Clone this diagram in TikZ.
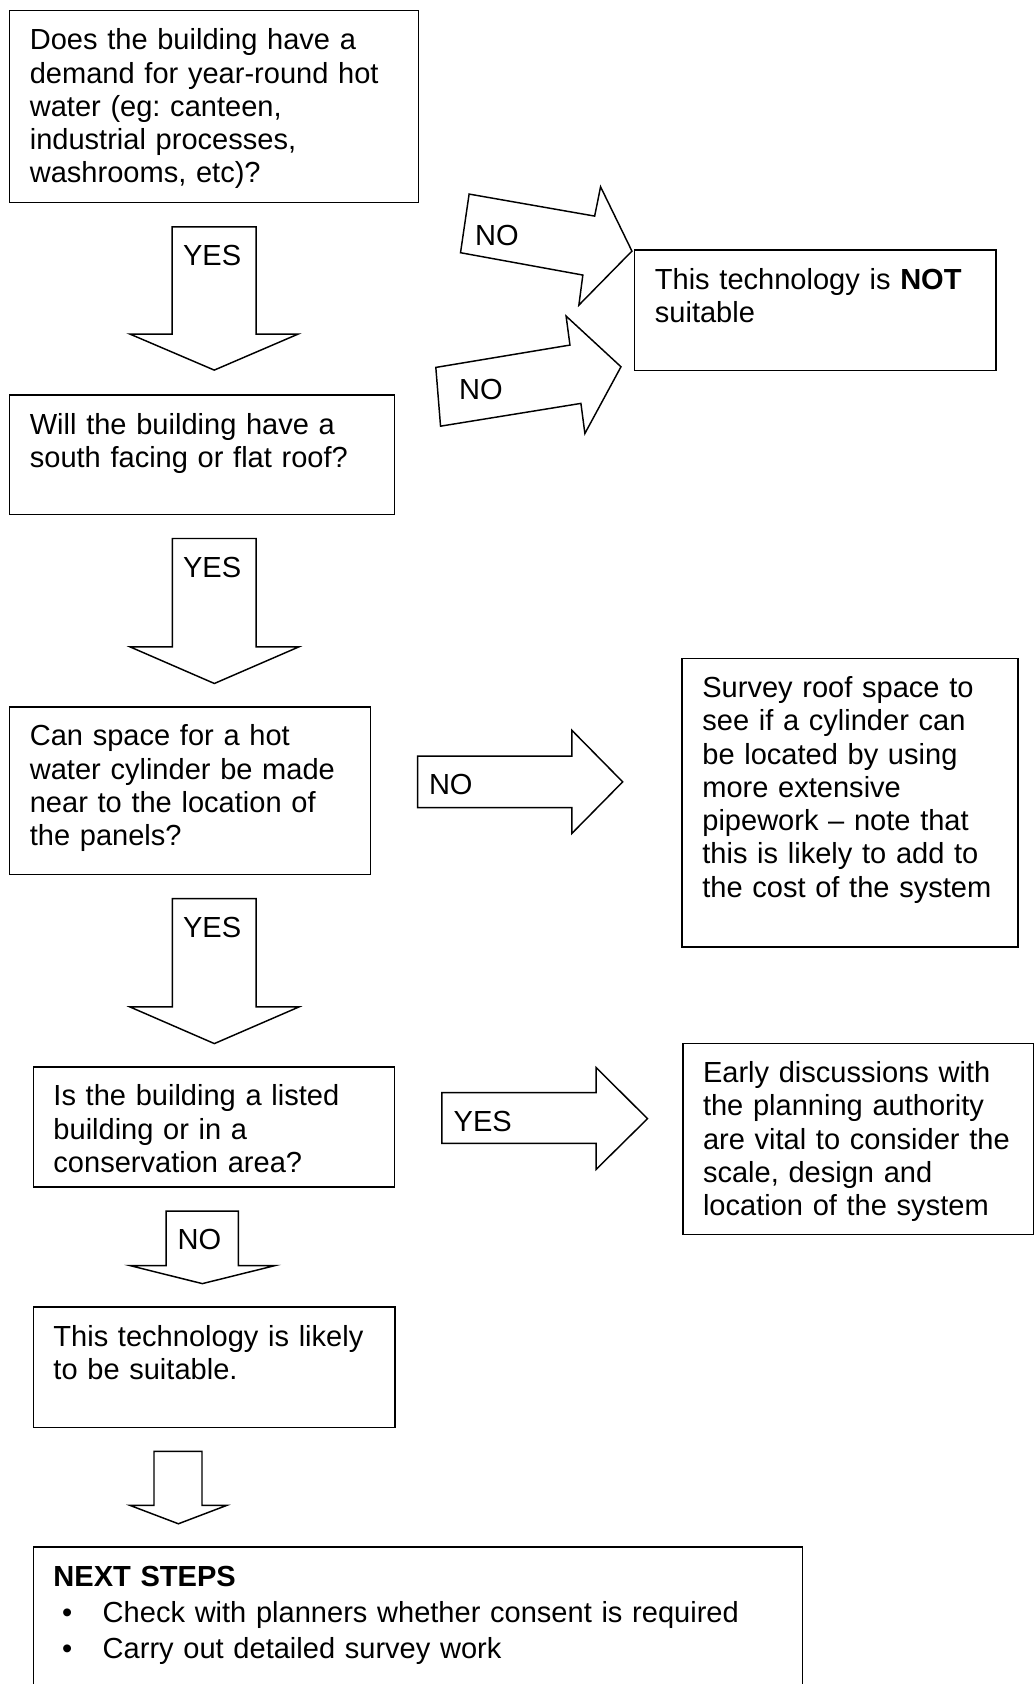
\documentclass[tikz,border=0pt]{standalone}
\usepackage{fontspec}
\setmainfont{Liberation Sans}
\usetikzlibrary{fit,calc}
\frenchspacing
\begin{document}
\begin{tikzpicture}[x=0.44pt,y=-0.44pt,
  frame/.style={draw=black, line width=0.6pt, inner sep=0pt, fit={#1}},
  blockarrow/.style={draw=black, line width=0.6pt, line join=miter, fill=white},
  body/.style={anchor=base west, inner sep=0pt, align=left, text width=#1,
    font=\fontsize{11.9pt}{13.64pt}\selectfont},
  body/.default=170pt,
  tag/.style={anchor=base west, inner sep=0pt, font=\fontsize{11.9pt}{13.64pt}\selectfont}]

\useasboundingbox (0,0) rectangle (963,1568);
\clip (0,0) rectangle (963,1568);

% ---------- decision and result boxes ----------
\node[frame={(9,10) (389.5,188.4)}] (q1) {};
\node[frame={(9,367.9) (367.3,479)}] (q2) {};
\node[frame={(9,658.2) (345,814)}] (q3) {};
\node[frame={(31,993.4) (367.4,1105.2)}] (q4) {};
\node[frame={(591,232.8) (927.3,345.2)}] (notok) {};
\node[frame={(635.2,613.1) (947.7,881.7)}] (survey) {};
\node[frame={(635.8,971.7) (962.3,1149.3)}] (early) {};
\node[frame={(31,1217) (367.9,1329.3)}] (likely) {};
\node[frame={(31,1440.5) (747.3,1620)}] (next) {};

\node[body] (t1) at ($(q1.north west)+(19,37)$)
  {Does the building have a\\demand for year-round hot\\water (eg: canteen,\\industrial processes,\\washrooms, etc)?};
\node[body] (t2) at ($(q2.north west)+(19,37)$)
  {Will the building have a\\south facing or flat roof?};
\node[body] (t3) at ($(q3.north west)+(19,37)$)
  {Can space for a hot\\water cylinder be made\\near to the location of\\the panels?};
\node[body] (t4) at ($(q4.north west)+(19,37)$)
  {Is the building a listed\\building or in a\\conservation area?};
\node[body] (tn) at ($(notok.north west)+(19,37)$)
  {This technology is \textbf{NOT}\\suitable};
\node[body] (ts) at ($(survey.north west)+(19,37)$)
  {Survey roof space to\\see if a cylinder can\\be located by using\\more extensive\\pipework \textendash\ note that\\this is likely to add to\\the cost of the system};
\node[body] (te) at ($(early.north west)+(19,37)$)
  {Early discussions with\\the planning authority\\are vital to consider the\\scale, design and\\location of the system};
\node[body] (tl) at ($(likely.north west)+(19,37)$)
  {This technology is likely\\to be suitable.};
\node[body=320pt] (tx) at ($(next.north west)+(19,37)$)
  {\textbf{NEXT STEPS}\\[1.3pt]
   \makebox[20.2pt][l]{\hspace{3.6pt}\textbullet}Check with planners whether consent is required\\[1pt]
   \makebox[20.2pt][l]{\hspace{3.6pt}\textbullet}Carry out detailed survey work};

% ---------- block arrows ----------
% downward YES arrows
\draw[blockarrow] (160.2,211.3) -- (238.5,211.3) -- (238.5,311.1) -- (277.5,311.1)
  -- (199.5,344.6) -- (121.1,311.1) -- (160.2,311.1) -- cycle;
\draw[blockarrow] (160.5,501.4) -- (238.4,501.4) -- (238.4,602.3) -- (278.3,602.3)
  -- (199.6,636.4) -- (121.1,602.3) -- (160.5,602.3) -- cycle;
\draw[blockarrow] (160.5,836.7) -- (238.4,836.7) -- (238.4,937.6) -- (278.3,937.6)
  -- (199.6,971.7) -- (121.1,937.6) -- (160.5,937.6) -- cycle;
% downward NO arrow and final arrow
\draw[blockarrow] (154.6,1127.6) -- (222,1127.6) -- (222,1178.4) -- (256.1,1178.4)
  -- (188.4,1195.2) -- (121.1,1178.4) -- (154.6,1178.4) -- cycle;
\draw[blockarrow] (143.4,1351.4) -- (188.1,1351.4) -- (188.1,1401.7) -- (211.1,1401.7)
  -- (166.1,1418.8) -- (121.1,1401.7) -- (143.4,1401.7) -- cycle;
% tilted NO arrows into the "not suitable" box
\draw[blockarrow] (436.8,180.7) -- (553.7,201.2) -- (559.2,173.9) -- (588.4,233.8)
  -- (539.0,284.1) -- (542.7,256.1) -- (428.8,235.3) -- cycle;
\draw[blockarrow] (405.8,342.1) -- (530.7,321.3) -- (527.1,294.3) -- (578.2,341.5)
  -- (544.6,403.6) -- (540.9,375.6) -- (410.2,396.8) -- cycle;
% rightward arrows
\draw[blockarrow] (388.8,704.1) -- (532.4,704.1) -- (532.4,679.9) -- (579.8,728)
  -- (532.4,776.1) -- (532.4,751.9) -- (388.8,751.9) -- cycle;
\draw[blockarrow] (411.4,1017.3) -- (555.1,1017.3) -- (555.1,994) -- (602.9,1041.6)
  -- (555.1,1088.8) -- (555.1,1064.5) -- (411.4,1064.5) -- cycle;

% ---------- arrow labels ----------
\node[tag] (y1) at (170,247.5) {YES};
\node[tag] (y2) at (170,537.5) {YES};
\node[tag] (y3) at (170,873) {YES};
\node[tag] (n1) at (442,229) {NO};
\node[tag] (n2) at (427,372) {NO};
\node[tag] (n3) at (399,739.5) {NO};
\node[tag] (y4) at (422,1053.3) {YES};
\node[tag] (n4) at (165,1163.6) {NO};
\end{tikzpicture}
\end{document}
